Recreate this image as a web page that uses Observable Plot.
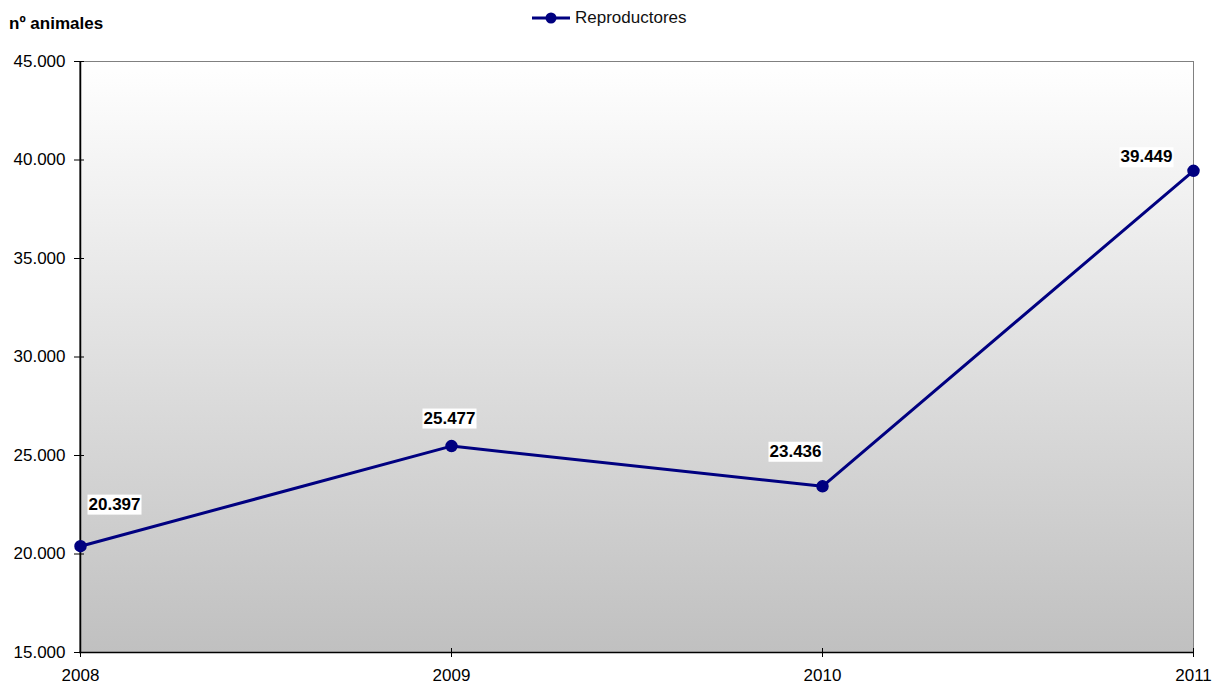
<!DOCTYPE html>
<html><head><meta charset="utf-8">
<script src="https://cdn.jsdelivr.net/npm/d3@7"></script>
<script src="https://cdn.jsdelivr.net/npm/@observablehq/plot@0.6"></script>
<style>
body{margin:0;background:#fff;font-family:"Liberation Sans",Arial,sans-serif}
#wrap{position:relative;width:1212px;height:684px;overflow:hidden}
#ytitle{position:absolute;left:9px;top:14px;font-weight:bold;font-size:17px;color:#000;white-space:nowrap}
#legend{position:absolute;left:531px;top:8px;height:20px;display:flex;align-items:center;font-size:17px;color:#111;white-space:nowrap}
#legend svg{margin-right:4px}
</style>
</head><body>
<div id="wrap">
  <div id="ytitle"></div>
  <div id="legend"></div>
</div>
<script>
const years = ["2008", "2009", "2010", "2011"];
const reproductores = [20397, 25477, 23436, 39449];
const yTicks = [15000, 20000, 25000, 30000, 35000, 40000, 45000];
const seriesName = "Reproductores";
const yTitle = "nº animales";

const data = years.map((y, i) => ({year: y, value: reproductores[i]}));
const loc = d3.formatLocale({decimal: ",", thousands: ".", grouping: [3], currency: ["", "€"]});
const fmt = loc.format(",.0f");

const navy = "#000080";
// label placement offsets (pixels), as in the original chart
const labelOffsets = [[34, -42], [-2, -28], [-27, -35], [-47, -14]];

const defs = () => {
  const d = d3.create("svg:defs");
  const g = d.append("linearGradient").attr("id", "bgGrad").attr("x1", 0).attr("y1", 0).attr("x2", 0).attr("y2", 1);
  g.append("stop").attr("offset", "0%").attr("stop-color", "#ffffff");
  g.append("stop").attr("offset", "100%").attr("stop-color", "#c0c0c0");
  return d.node();
};

const plot = Plot.plot({
  width: 1212,
  height: 684,
  marginLeft: 79,
  marginRight: 19,
  marginTop: 61,
  marginBottom: 32,
  style: {fontFamily: "Liberation Sans, Arial, sans-serif", fontSize: "17px", color: "#000", background: "transparent"},
  x: {type: "point", domain: years, padding: 0, label: null},
  y: {domain: [15000, 45000], label: null},
  marks: [
    defs,
    Plot.frame({fill: "url(#bgGrad)", stroke: "#808080", strokeWidth: 1}),
    Plot.ruleX([years[0]], {stroke: "#000", strokeWidth: 1.5}),
    Plot.ruleY([yTicks[0]], {stroke: "#000", strokeWidth: 1.5}),
    Plot.axisY({ticks: yTicks, tickSize: 10, dx: 5, text: null, stroke: "#000"}),
    Plot.axisY({ticks: yTicks, tickSize: 0, tickPadding: 14, tickFormat: fmt, fontSize: 17, fill: "#000"}),
    Plot.axisX({ticks: years, tickSize: 9, dy: -4, text: null, stroke: "#000"}),
    Plot.axisX({ticks: years, tickSize: 0, tickPadding: 16, fontSize: 17, fill: "#000"}),
    Plot.line(data, {x: "year", y: "value", stroke: navy, strokeWidth: 3}),
    Plot.dot(data, {x: "year", y: "value", r: 5.5, fill: navy, stroke: navy}),
    ...years.map((yr, i) => Plot.text(data.filter(d => d.year === yr), {
      x: "year", y: "value", text: d => fmt(d.value),
      dx: labelOffsets[i][0], dy: labelOffsets[i][1],
      fontWeight: "bold", fontSize: 17, fill: "#000", className: "vlabel"
    }))
  ]
});

const wrap = document.getElementById("wrap");
wrap.insertBefore(plot, wrap.firstChild);
plot.style.position = "absolute";
plot.style.left = "0";
plot.style.top = "0";

// white boxes behind value labels
plot.querySelectorAll(".vlabel text").forEach(t => {
  const b = t.getBBox();
  const r = document.createElementNS("http://www.w3.org/2000/svg", "rect");
  r.setAttribute("x", b.x - 1);
  r.setAttribute("y", b.y);
  r.setAttribute("width", b.width + 2);
  r.setAttribute("height", b.height + 1);
  r.setAttribute("fill", "#fff");
  const tr = t.getAttribute("transform");
  if (tr) r.setAttribute("transform", tr);
  t.parentNode.insertBefore(r, t);
});

document.getElementById("ytitle").textContent = yTitle;
const leg = document.getElementById("legend");
leg.innerHTML = `<svg width="40" height="14"><line x1="1" y1="7" x2="39" y2="7" stroke="${navy}" stroke-width="3"/><circle cx="20" cy="7" r="5.5" fill="${navy}"/></svg><span></span>`;
leg.querySelector("span").textContent = seriesName;
</script>
</body></html>
